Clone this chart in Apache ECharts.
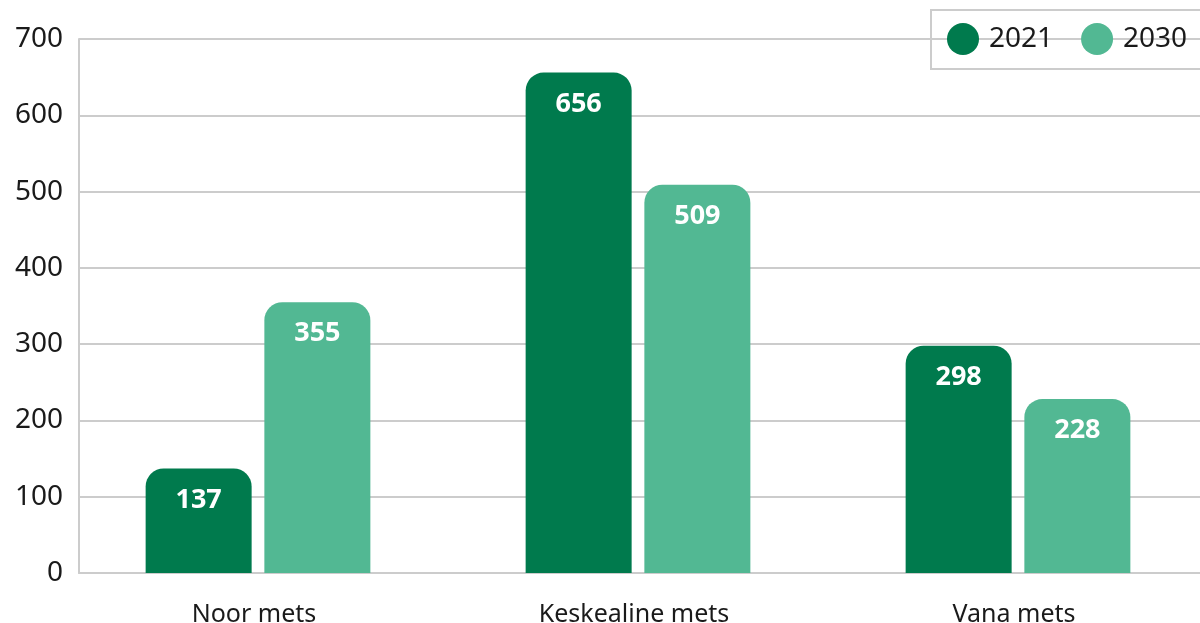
<!DOCTYPE html>
<html>
<head>
<meta charset="utf-8">
<script src="https://cdn.jsdelivr.net/npm/echarts@6/dist/echarts.min.js"></script>
<style>
  html, body { margin: 0; padding: 0; background: #fff; }
  #chart { width: 1200px; height: 623px; }
</style>
</head>
<body>
<div id="chart"></div>
<script>
const categories = ["Noor mets", "Keskealine mets", "Vana mets"];
const values2021 = [137, 656, 298];
const values2030 = [355, 509, 228];
const yTicks = [0, 100, 200, 300, 400, 500, 600, 700];

const font = "Noto Sans";
const grey = "#cccccc";

const barLabel = {
  show: true,
  position: "insideTop",
  distance: 18,
  color: "#fff",
  fontFamily: font,
  fontWeight: "bold",
  fontSize: 27,
};

const options = {
  animation: false,
  textStyle: { fontFamily: font },
  legend: {
    orient: "horizontal",
    left: 931,
    top: 10,
    width: 320,
    itemWidth: 32,
    itemHeight: 32,
    itemGap: 28,
    icon: "circle",
    padding: [13, 20, 14, 16],
    borderColor: grey,
    borderWidth: 2,
    textStyle: { fontSize: 28, color: "#1a1a1a", fontFamily: font, padding: [0, 0, 0, 5] },
    data: ["2021", "2030"],
  },
  grid: [
    // bars
    { left: 68, top: 39, right: -8, height: 534, outerBoundsMode: "none" },
    // axes and gridlines
    { left: 79, top: 39, right: 0, height: 534, outerBoundsMode: "none" },
  ],
  xAxis: [
    {
      gridIndex: 0,
      type: "category",
      data: categories,
      axisLine: { show: false },
      axisTick: { show: false },
      axisLabel: { fontSize: 25, color: "#1a1a1a", margin: 29, padding: [0, 8, 0, 0] },
    },
    {
      gridIndex: 1,
      type: "value",
      min: 0,
      max: 1,
      axisLine: { show: true, lineStyle: { color: grey, width: 2 } },
      axisTick: { show: false },
      axisLabel: { show: false },
      splitLine: { show: false },
    },
  ],
  yAxis: [
    {
      gridIndex: 0,
      type: "value",
      min: yTicks[0],
      max: yTicks[yTicks.length - 1],
      interval: 100,
      show: false,
    },
    {
      gridIndex: 1,
      type: "value",
      min: yTicks[0],
      max: yTicks[yTicks.length - 1],
      interval: 100,
      axisLine: { show: true, lineStyle: { color: grey, width: 2 } },
      axisTick: { show: false },
      axisLabel: { fontSize: 28, color: "#1a1a1a", margin: 16 },
      splitLine: { lineStyle: { color: grey, width: 2 } },
    },
  ],
  series: [
    {
      name: "2021",
      type: "bar",
      xAxisIndex: 0,
      yAxisIndex: 0,
      data: values2021,
      barWidth: 106,
      barGap: "12%",
      z: 3,
      itemStyle: { color: "#007a4d", borderRadius: [18, 18, 0, 0] },
      label: barLabel,
    },
    {
      name: "2030",
      type: "bar",
      xAxisIndex: 0,
      yAxisIndex: 0,
      data: values2030,
      barWidth: 106,
      barGap: "12%",
      z: 3,
      itemStyle: { color: "#52b893", borderRadius: [18, 18, 0, 0] },
      label: barLabel,
    },
  ],
};

const chart = echarts.init(document.getElementById("chart"));
chart.setOption(options);
window.addEventListener("resize", function () {
  chart.resize();
});
</script>
</body>
</html>
